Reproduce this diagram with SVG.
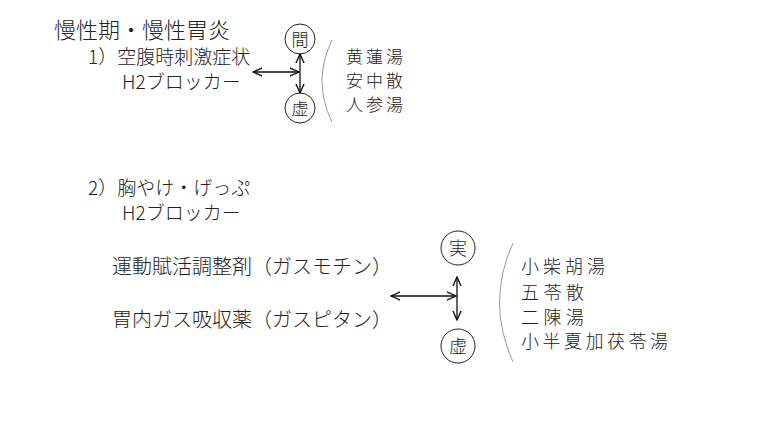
<svg xmlns="http://www.w3.org/2000/svg" width="780" height="439" viewBox="0 0 780 439">
<style>
text{font-family:"Noto Sans CJK JP","Liberation Sans",sans-serif;fill:#222;font-weight:300}
.t{font-size:19px}
.b{font-size:20px}
.l1{font-size:17px}
.l2{font-size:18px}
.c{fill:#fff;stroke:#222;stroke-width:1}
.ln{stroke:#111;stroke-width:1.3;fill:none}
.p{stroke:#999;stroke-width:1;fill:none}
</style>
<defs><marker id="a" viewBox="0 0 10 10" refX="9" refY="5" markerWidth="8" markerHeight="8" orient="auto-start-reverse"><path d="M0,1 L9,5 L0,9" fill="none" stroke="#111" stroke-width="1.3"/></marker></defs>
<rect width="780" height="439" fill="#fff"/>
<g id="labels">
<text x="54" y="38" font-size="22">慢性期・慢性胃炎</text>
<text x="88" y="64" class="t">1）空腹時刺激症状</text>
<text x="122" y="89" class="t">H2ブロッカー</text>
<text x="88" y="195" class="t">2）胸やけ・げっぷ</text>
<text x="122" y="220" class="t">H2ブロッカー</text>
<text x="112" y="274" class="b">運動賦活調整剤（ガスモチン）</text>
<text x="112" y="327" class="b">胃内ガス吸収薬（ガスピタン）</text>
</g>
<g id="n1"><circle class="c" cx="300" cy="39" r="15"/><text x="300" y="45.5" font-size="17" text-anchor="middle">間</text></g>
<g id="n2"><circle class="c" cx="300" cy="108" r="15"/><text x="300" y="114.5" font-size="17" text-anchor="middle">虚</text></g>
<g id="n3"><circle class="c" cx="458" cy="248" r="17"/><text x="458" y="254.5" font-size="18" text-anchor="middle">実</text></g>
<g id="n4"><circle class="c" cx="458" cy="346" r="17"/><text x="458" y="352.5" font-size="18" text-anchor="middle">虚</text></g>
<g id="list1">
<path class="p" d="M332,40 Q312,81 332,122"/>
<text x="346" y="63" class="l1" textLength="57">黄蓮湯</text>
<text x="346" y="87" class="l1" textLength="57">安中散</text>
<text x="346" y="111" class="l1" textLength="57">人参湯</text>
</g>
<g id="list2">
<path class="p" d="M513,243 Q486,302 513,362"/>
<text x="521" y="273" class="l2" textLength="84">小柴胡湯</text>
<text x="521" y="299" class="l2" textLength="63">五苓散</text>
<text x="521" y="324" class="l2" textLength="63">二陳湯</text>
<text x="521" y="348" class="l2" textLength="147">小半夏加茯苓湯</text>
</g>
<g id="connectors">
<line class="ln" x1="300" y1="54" x2="300" y2="93" marker-start="url(#a)" marker-end="url(#a)"/>
<line class="ln" x1="253" y1="72" x2="299" y2="72" marker-start="url(#a)" marker-end="url(#a)"/>
<line class="ln" x1="457" y1="277" x2="457" y2="320" marker-start="url(#a)" marker-end="url(#a)"/>
<line class="ln" x1="391" y1="296" x2="456" y2="296" marker-start="url(#a)" marker-end="url(#a)"/>
</g>
</svg>
